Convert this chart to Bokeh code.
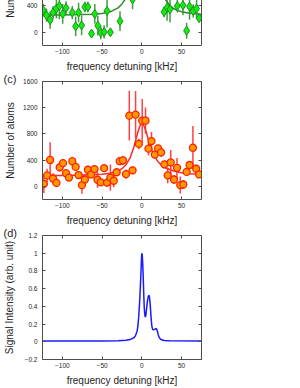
from bokeh.plotting import figure
from bokeh.layouts import column
from bokeh.models import Range1d, LinearAxis, FixedTicker, ColumnDataSource, CustomJSTickFormatter
from bokeh.embed import file_html
from bokeh.resources import INLINE

# ---------------- data ----------------
x_ticks = [-100, -50, 0, 50]

# panel (b) - green diamonds (only lower part visible)
b_x = [-124.2, -120.0, -115.4, -111.7, -107.5, -103.8, -99.6, -95.4, -87.5, -83.3,
       -79.6, -75.8, -71.7, -67.9, -63.3, -59.2, -55.4, -51.7, -47.5, -43.8,
       -39.6, -27.5, -11.7, 27.9, 31.7, 35.4, 44.6, 51.7, 56.3, 60.0,
       64.6, 68.8, 72.0]
b_y = [334, 259, 184, 299, 359, 399, 279, 369, 299, 90,
       299, 105, 384, 384, -20, 279, 100, -5, 5, 324,
       0, 169, 499, 309, 374, 349, 399, 409, 24, 389,
       324, 359, 214]
b_err = [100, 100, 130, 100, 150, 200, 150, 100, 100, 150,
         150, 150, 80, 80, 50, 150, 150, 100, 100, 250,
         50, 150, 150, 80, 200, 200, 100, 150, 120, 200,
         100, 150, 50]
b_fit_x = [-125, -100, -75, -60, -50, -40, -30, -25, -20, -15, -10, -5, 0,
           5, 10, 15, 20, 25, 30, 35, 40, 45, 50, 60, 75]
b_fit_y = [262, 264, 268, 275, 285, 310, 370, 430, 520, 650, 820, 1000, 1080,
           1000, 850, 720, 620, 560, 490, 410, 360, 330, 312, 290, 272]
b_yticks = [0, 400, 800, 1200, 1600]

# panel (c) - orange circles
c_x = [-123.3, -119.2, -115.4, -111.7, -107.5, -103.3, -99.2, -95.4, -91.7, -87.5,
       -83.3, -79.6, -75.4, -71.7, -67.9, -63.8, -59.6, -55.8, -51.7, -47.5,
       -43.8, -39.6, -35.4, -31.7, -27.9, -23.8, -20.0, -15.8, -11.7, -7.9,
       -3.8, 0.4, 4.6, 8.3, 12.1, 16.3, 20.4, 24.2, 28.3, 32.5,
       36.3, 40.4, 44.2, 48.3, 52.1, 56.3, 60.0, 64.2, 68.3, 72.1]
c_y = [38, 168, 403, 120, 53, 292, 355, 201, 134, 384,
       297, 173, 19, 105, 254, 182, 264, 101, 62, 278,
       58, 134, 86, 216, 384, 398, 187, 1079, 245, 1094,
       648, 1003, 1003, 576, 691, 485, 580, 518, 336, 168,
       365, 105, 283, 19, 29, 221, 326, 590, 269, 182]
c_err = [140, 100, 270, 80, 60, 60, 60, 60, 50, 60,
         50, 50, 130, 60, 60, 40, 50, 120, 50, 40,
         60, 200, 100, 40, 50, 70, 70, 380, 60, 360,
         80, 330, 200, 100, 140, 60, 60, 70, 60, 120,
         190, 70, 150, 130, 70, 40, 40, 330, 60, 40]
c_fit_x = [-125, -100, -75, -50, -40, -30, -25, -20, -15, -10, -5, -2, 0,
           2, 5, 8, 12, 16, 20, 25, 30, 40, 50, 60, 75]
c_fit_y = [165, 168, 172, 185, 200, 235, 270, 330, 430, 600, 830, 940, 965,
           940, 850, 720, 570, 460, 380, 320, 280, 235, 208, 192, 180]
c_yticks = [0, 400, 800, 1200, 1600]

# panel (d) - blue signal curve
d_x = [-125, -50, -30, -20, -15, -10, -8, -6, -5, -4, -3, -2, -1, -0.3, 0,
       0.5, 1, 1.5, 2, 2.5, 3, 3.5, 4, 4.5, 5, 6, 7, 8, 8.8, 9.5,
       10.5, 11.5, 12.5, 13.5, 14.5, 16, 17.5, 18.5, 19.5, 20.5, 22, 24, 28, 35, 75]
d_y = [0.01, 0.01, 0.012, 0.017, 0.025, 0.045, 0.07, 0.12, 0.18, 0.28, 0.42, 0.6, 0.82, 0.97, 1.0,
       0.97, 0.9, 0.78, 0.64, 0.5, 0.39, 0.32, 0.29, 0.28, 0.3, 0.38, 0.46, 0.51, 0.525, 0.51,
       0.42, 0.28, 0.18, 0.14, 0.135, 0.14, 0.15, 0.145, 0.12, 0.08, 0.045, 0.025, 0.015, 0.011, 0.01]
d_yticks = [-0.2, 0, 0.2, 0.4, 0.6, 0.8, 1, 1.2]

# ---------------- styling ----------------
AX = "#4d4d4d"
TXT = "#262626"
FONT = "Liberation Sans"
W = 300
FRAME_L = 41
FRAME_W = 160


def blank_axis(ticks):
    return LinearAxis(ticker=FixedTicker(ticks=ticks),
                      formatter=CustomJSTickFormatter(code="return ''"),
                      major_tick_in=3, major_tick_out=0, minor_tick_line_color=None,
                      axis_line_color=AX, major_tick_line_color=AX, major_label_standoff=0)


def style(p, yticks, xlabel, ylabel, ylabel_standoff, top_axis=True, yover=None, panel=None):
    p.xaxis.ticker = FixedTicker(ticks=x_ticks)
    p.yaxis.ticker = FixedTicker(ticks=yticks)
    if yover:
        p.yaxis.major_label_overrides = yover
    p.xaxis.axis_label = xlabel
    p.yaxis.axis_label = ylabel
    for ax in list(p.xaxis) + list(p.yaxis):
        ax.major_tick_in = 3
        ax.major_tick_out = 0
        ax.minor_tick_line_color = None
        ax.axis_line_color = AX
        ax.major_tick_line_color = AX
        ax.major_label_text_font = FONT
        ax.major_label_text_font_size = "6.5px"
        ax.major_label_text_color = TXT
        ax.axis_label_text_font = FONT
        ax.axis_label_text_font_size = "10px"
        ax.axis_label_text_font_style = "normal"
        ax.axis_label_text_color = TXT
    p.xaxis.major_label_standoff = 3
    p.xaxis.axis_label_standoff = 4
    p.yaxis.major_label_standoff = 5
    p.yaxis.axis_label_standoff = ylabel_standoff
    p.add_layout(blank_axis(yticks), "right")
    if top_axis:
        p.add_layout(blank_axis(x_ticks), "above")
    if panel:
        p.title.text = panel
        p.title.align = "left"
        p.title.offset = -39
        p.title.standoff = -7
        p.title.text_font = FONT
        p.title.text_font_size = "11px"
        p.title.text_font_style = "normal"
        p.title.text_color = TXT
        p.title.vertical_align = "bottom"
    p.xgrid.visible = False
    p.ygrid.visible = False
    p.outline_line_color = None
    p.background_fill_color = "white"
    p.border_fill_color = "white"


def make_fig(height, btop, bbottom, yr):
    return figure(width=W, height=height, x_range=Range1d(-125, 75), y_range=Range1d(*yr),
                  output_backend="svg", toolbar_location=None,
                  min_border_left=FRAME_L, min_border_right=W - FRAME_L - FRAME_W,
                  min_border_top=btop, min_border_bottom=bbottom)


# panel (b)
p1 = make_fig(161, 0, 27, (-200, 1800))
style(p1, b_yticks, "frequency detuning [kHz]", "Number of atoms", 4, top_axis=False)
src_b = ColumnDataSource(dict(x=b_x, lo=[y - e for y, e in zip(b_y, b_err)],
                              hi=[y + e for y, e in zip(b_y, b_err)]))
p1.segment(x0="x", y0="lo", x1="x", y1="hi", source=src_b, line_color="#3f9f3f", line_width=1.5)
p1.line(b_fit_x, b_fit_y, line_color="#2e8b2e", line_width=1.5)
p1.scatter(b_x, b_y, marker="diamond", size=9, fill_color="#10ee10", line_color="#1f8f1f",
           line_width=1)

# panel (c)
p2 = make_fig(154, 7, 23, (-200, 1600))
style(p2, c_yticks, "frequency detuning [kHz]", "Number of atoms", 4, panel="(c)")
src_c = ColumnDataSource(dict(x=c_x, lo=[y - e for y, e in zip(c_y, c_err)],
                              hi=[y + e for y, e in zip(c_y, c_err)]))
p2.segment(x0="x", y0="lo", x1="x", y1="hi", source=src_c, line_color="#ff4040", line_width=1.5)
p2.line(c_fit_x, c_fit_y, line_color="#ff2a2a", line_width=1.5)
p2.scatter(c_x, c_y, marker="circle", size=7, fill_color="#ff9900", line_color="#ff2200",
           line_width=1.3)

# panel (d)
p3 = make_fig(160, 7, 27, (-0.2, 1.2))
style(p3, d_yticks, "frequency detuning [kHz]", "Signal Intensity (arb. unit)", 7,
      yover={0: "0", 1: "1"}, panel="(d)")
p3.line(d_x, d_y, line_color="#1a1aff", line_width=1.5)

layout = column(p1, p2, p3, spacing=0, margin=(-87, -8, -8, 0))

open("out.html", "w").write(file_html(layout, INLINE))
